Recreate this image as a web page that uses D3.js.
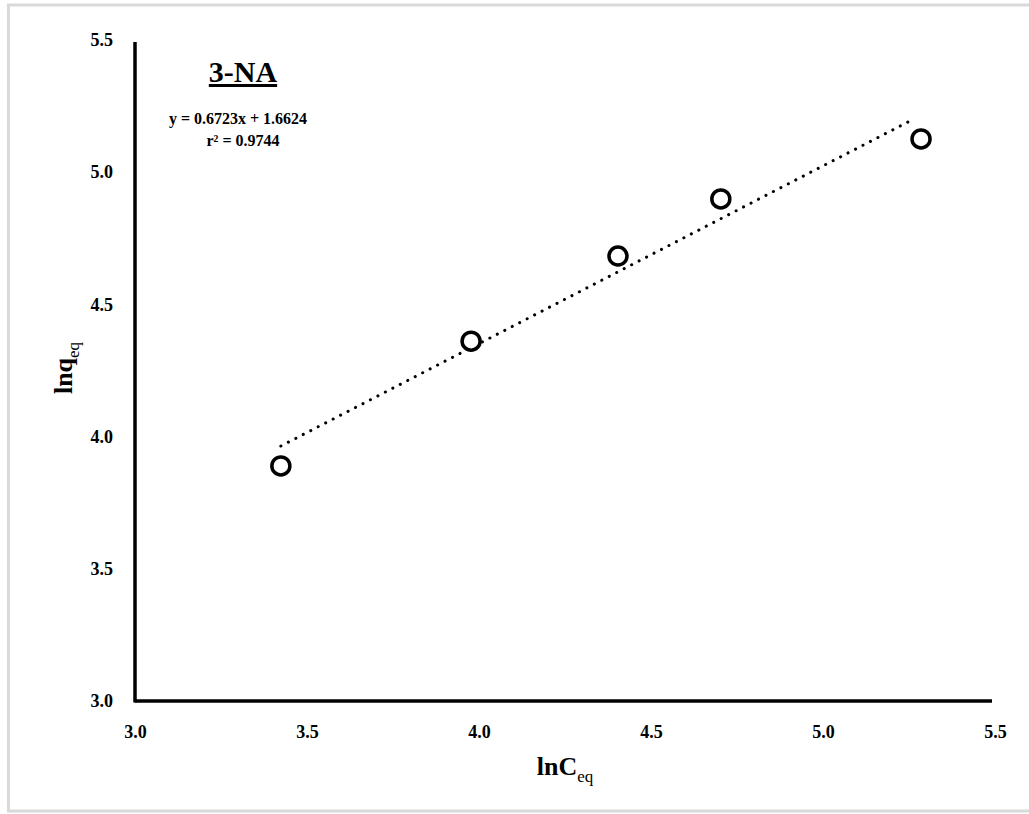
<!DOCTYPE html>
<html>
<head>
<meta charset="utf-8">
<script src="https://cdn.jsdelivr.net/npm/d3@7"></script>
<style>
  body { margin: 0; background: #fff; }
  text { font-family: "Liberation Serif", "Times New Roman", serif; font-weight: bold; }
</style>
</head>
<body>
<div id="chart"></div>
<script>
// data
const lnC = [3.424, 3.977, 4.404, 4.703, 5.285];
const lnq = [3.889, 4.361, 4.683, 4.899, 5.126];
const xTicks = [3.0, 3.5, 4.0, 4.5, 5.0, 5.5];
const yTicks = [3.0, 3.5, 4.0, 4.5, 5.0, 5.5];
const slope = 0.6723;
const intercept = 1.6624;

const width = 1029;
const height = 814;

const svg = d3.select('#chart')
  .append('svg')
  .attr('width', width)
  .attr('height', height);

// outer light frame
svg.append('rect')
  .attr('x', 8.5)
  .attr('y', 5)
  .attr('width', 1030)
  .attr('height', 806)
  .attr('fill', 'none')
  .attr('stroke', '#d9d9d9')
  .attr('stroke-width', 3);

const x = d3.scaleLinear().domain([3.0, 5.5]).range([135, 995]);
const y = d3.scaleLinear().domain([3.0, 5.5]).range([701, 40]);

// axes
const axisX = d3.axisBottom(x).tickValues(xTicks).tickSize(0).tickPadding(24)
  .tickFormat(d3.format('.1f'));
const gx = svg.append('g')
  .attr('transform', `translate(0, ${y(3.0)})`)
  .call(axisX);
gx.select('.domain').attr('stroke', '#000').attr('stroke-width', 3.5)
  .attr('d', `M${x(3.0)},0H${x(5.5) - 3}`);
gx.selectAll('text').attr('font-size', 18).attr('fill', '#000');

const axisY = d3.axisLeft(y).tickValues(yTicks).tickSize(0).tickPadding(22)
  .tickFormat(d3.format('.1f'));
const gy = svg.append('g')
  .attr('transform', `translate(${x(3.0)}, 0)`)
  .call(axisY);
gy.select('.domain').attr('stroke', '#000').attr('stroke-width', 3.5)
  .attr('d', `M0,${y(3.0) + 1.5}V${y(5.5) + 2}`);
gy.selectAll('text').attr('font-size', 18).attr('fill', '#000');

// trend line (dotted)
const xMin = d3.min(lnC), xMax = d3.max(lnC);
svg.append('line')
  .attr('x1', x(xMin)).attr('y1', y(slope * xMin + intercept))
  .attr('x2', x(xMax) - 9).attr('y2', y(slope * (xMax - 9 / 344) + intercept))
  .attr('stroke', '#000')
  .attr('stroke-width', 3)
  .attr('stroke-linecap', 'round')
  .attr('stroke-dasharray', '0.1 8.3');

// points
svg.selectAll('.pt')
  .data(lnC)
  .enter()
  .append('circle')
  .attr('class', 'pt')
  .attr('cx', d => x(d))
  .attr('cy', (d, i) => y(lnq[i]))
  .attr('r', 9)
  .attr('fill', '#fff')
  .attr('stroke', '#000')
  .attr('stroke-width', 3.5);

// annotation
svg.append('text')
  .attr('x', 243).attr('y', 82)
  .attr('text-anchor', 'middle')
  .attr('font-size', 30)
  .attr('text-decoration', 'underline')
  .text('3-NA');

svg.append('text')
  .attr('x', 238).attr('y', 124)
  .attr('text-anchor', 'middle')
  .attr('font-size', 16)
  .text('y = 0.6723x + 1.6624');

svg.append('text')
  .attr('x', 243).attr('y', 146)
  .attr('text-anchor', 'middle')
  .attr('font-size', 16)
  .text('r² = 0.9744');

// axis titles
const xt = svg.append('text')
  .attr('x', 565).attr('y', 775)
  .attr('text-anchor', 'middle')
  .attr('font-size', 26);
xt.append('tspan').text('lnC');
xt.append('tspan').attr('dy', 7).attr('font-size', 17).attr('font-weight', 'normal').text('eq');

const yt = svg.append('text')
  .attr('transform', 'translate(72, 368) rotate(-90)')
  .attr('text-anchor', 'middle')
  .attr('font-size', 26);
yt.append('tspan').text('lnq');
yt.append('tspan').attr('dy', 7).attr('font-size', 17).attr('font-weight', 'normal').text('eq');
</script>
</body>
</html>
